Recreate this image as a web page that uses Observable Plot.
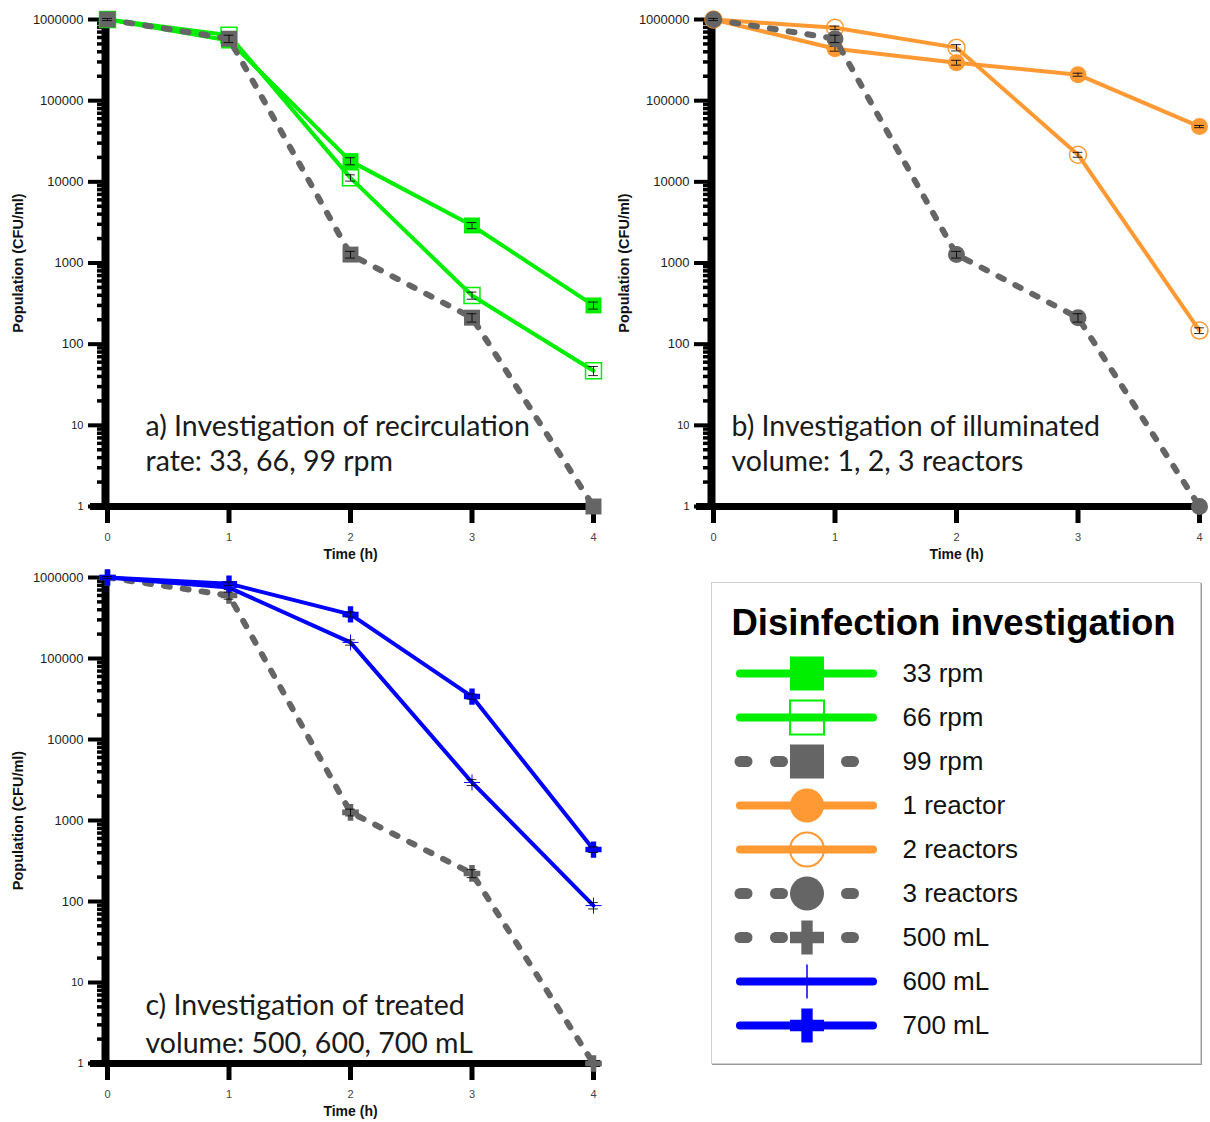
<!DOCTYPE html>
<html><head><meta charset="utf-8">
<script src="https://cdn.jsdelivr.net/npm/d3@7"></script>
<script src="https://cdn.jsdelivr.net/npm/@observablehq/plot@0.6"></script>
<style>
body{margin:0;background:#fff;overflow:hidden}
#root{position:relative;width:1210px;height:1122px;background:#fff}
.panel{position:absolute}
#legend{position:absolute;left:711px;top:582px;width:490px;height:482px;border:1px solid #cfcfcf;box-shadow:1px 1px 0 #9a9a9a;box-sizing:border-box;background:#fff}
#legend svg{display:block}
</style></head>
<body><div id="root"></div>
<script>
// ---------------- data ----------------
const times = [0, 1, 2, 3, 4];
const xTicks = [0, 1, 2, 3, 4];
const yTicks = [1, 10, 100, 1000, 10000, 100000, 1000000];

// a) recirculation rate
const rpm33    = [1000000, 550000, 18000, 2900, 300];
const rpm33Err = [30000, 40000, 1800, 250, 30];
const rpm66    = [1000000, 640000, 11200, 398, 47];
const rpm66Err = [30000, 40000, 1000, 40, 6];
const rpm99    = [1000000, 580000, 1270, 212, 1];
const rpm99Err = [30000, 60000, 120, 25, 0];
// b) illuminated volume
const reactor1    = [1000000, 437000, 294000, 209000, 48000];
const reactor1Err = [30000, 30000, 20000, 9000, 1500];
const reactors2    = [1000000, 790000, 450000, 21600, 147];
const reactors2Err = [30000, 40000, 40000, 1500, 12];
const reactors3    = [1000000, 580000, 1270, 212, 1];
const reactors3Err = [30000, 60000, 120, 25, 0];
// c) treated volume
const ml500    = [1000000, 600000, 1260, 222, 1];
const ml500Err = [30000, 60000, 120, 25, 0];
const ml600    = [1000000, 750000, 158000, 2950, 89];
const ml600Err = [30000, 40000, 12000, 250, 8];
const ml700    = [1000000, 840000, 350000, 33900, 438];
const ml700Err = [30000, 40000, 25000, 2500, 35];

const legendNames = ["33 rpm", "66 rpm", "99 rpm", "1 reactor", "2 reactors", "3 reactors", "500 mL", "600 mL", "700 mL"];
const legendTitle = "Disinfection investigation";
const panelTexts = {
  a: ["a) Investigation of recirculation", "rate: 33, 66, 99 rpm"],
  b: ["b) Investigation of illuminated", "volume: 1, 2, 3 reactors"],
  c: ["c) Investigation of treated", "volume: 500, 600, 700 mL"]
};
const yLabel = "Population (CFU/ml)";
const xLabel = "Time (h)";

// ---------------- styles ----------------
const GREEN = "#00ee00", ORANGE = "#ff9933", GRAY = "#656565", BLUE = "#0000ff";
function plusR(extent) {
  const s = d3.symbol(d3.symbolPlus, 10000)();
  const e = Math.abs(+(/M\s*(-?[\d.]+)/.exec(s)[1]));
  const k = e / Math.sqrt(10000 - 2);
  const size = (extent / k) ** 2 + 2;
  return Math.sqrt(size / Math.PI);
}
const styleOf = {
  "33 rpm":     {color: GREEN,  dashed: false, symbol: "square", filled: true,  r: 9,   lr: 19.2},
  "66 rpm":     {color: GREEN,  dashed: false, symbol: "square", filled: false, r: 9,   lr: 19.2},
  "99 rpm":     {color: GRAY,   dashed: true,  symbol: "square", filled: true,  r: 9,   lr: 19.2},
  "1 reactor":  {color: ORANGE, dashed: false, symbol: "circle", filled: true,  r: 8.5, lr: 17},
  "2 reactors": {color: ORANGE, dashed: false, symbol: "circle", filled: false, r: 8.5, lr: 17},
  "3 reactors": {color: GRAY,   dashed: true,  symbol: "circle", filled: true,  r: 8.5, lr: 17},
  "500 mL":     {color: GRAY,   dashed: true,  symbol: "cross",  filled: true,  r: 7,   lr: 14.3},
  "600 mL":     {color: BLUE,   dashed: false, symbol: "plus",   filled: false, thin: true, r: plusR(8), lr: plusR(17)},
  "700 mL":     {color: BLUE,   dashed: false, symbol: "cross",  filled: true,  r: 6.8, lr: 14.3}
};

function rows(name, values, errs) {
  return times.map((t, i) => ({name, t, v: values[i], e: errs[i]}));
}
const panelSeries = {
  a: [rows("33 rpm", rpm33, rpm33Err), rows("66 rpm", rpm66, rpm66Err), rows("99 rpm", rpm99, rpm99Err)],
  b: [rows("1 reactor", reactor1, reactor1Err), rows("2 reactors", reactors2, reactors2Err), rows("3 reactors", reactors3, reactors3Err)],
  c: [rows("500 mL", ml500, ml500Err), rows("600 mL", ml600, ml600Err), rows("700 mL", ml700, ml700Err)]
};

const minorTicks = [];
for (let k = 0; k < 6; k++) for (let m = 2; m <= 9; m++) minorTicks.push(m * 10 ** k);

const FONT = "Liberation Sans, Arial, Helvetica, sans-serif";
const ANNO_FONT = "Lato, 'Open Sans', sans-serif";

function seriesMarks(data) {
  const st = styleOf[data[0].name];
  const m = [];
  m.push(Plot.line(data, {
    x: "t", y: "v", stroke: st.color,
    strokeWidth: st.dashed ? 6 : 4,
    strokeDasharray: st.dashed ? "6,13" : null,
    strokeLinecap: "round", strokeLinejoin: "round"
  }));
  m.push(Plot.dot(data, {
    x: "t", y: "v", symbol: st.symbol, r: st.r,
    fill: st.filled ? st.color : "none",
    stroke: st.filled ? "none" : st.color,
    strokeWidth: st.thin ? 1 : 1.5
  }));
  const eb = data.filter(d => d.e > 0);
  m.push(Plot.ruleX(eb, {x: "t", y1: d => d.v - d.e, y2: d => d.v + d.e, stroke: "#000", strokeWidth: 1, strokeOpacity: 0.85}));
  m.push(Plot.ruleY(eb, {y: d => d.v - d.e, x1: d => d.t - 0.04, x2: d => d.t + 0.04, stroke: "#000", strokeWidth: 1, strokeOpacity: 0.85}));
  m.push(Plot.ruleY(eb, {y: d => d.v + d.e, x1: d => d.t - 0.04, x2: d => d.t + 0.04, stroke: "#000", strokeWidth: 1, strokeOpacity: 0.85}));
  return m;
}

function makePanel({key, left, top, width, height, marginRight, marginBottom, annoDx, annoDy, order}) {
  const marks = [];
  marks.push(Plot.ruleX([0], {y1: 1, y2: 1000000, strokeWidth: 8, dx: -2}));
  marks.push(Plot.ruleY([1], {x1: -0.14, x2: 4.06, strokeWidth: 7}));
  marks.push(Plot.axisY(minorTicks, {anchor: "left", tickSize: 10, strokeWidth: 3.5, fill: "none", label: null}));
  marks.push(Plot.axisY(yTicks.filter(d => d >= 100), {anchor: "left", tickSize: 19, strokeWidth: 4, tickPadding: 5, fontSize: 13, fill: "#222", tickFormat: d => String(d), label: null}));
  marks.push(Plot.axisY(yTicks.filter(d => d < 100), {anchor: "left", tickSize: 19, strokeWidth: 4, tickPadding: 5, fontSize: 11, fill: "#222", tickFormat: d => String(d), label: null}));
  marks.push(Plot.axisX(xTicks, {anchor: "bottom", tickSize: 17, strokeWidth: 5, tickPadding: 10, fontSize: 11, fill: "#444", tickFormat: d => String(d), label: null}));
  marks.push(Plot.text([yLabel], {frameAnchor: "left", rotate: -90, dx: -89, textAnchor: "middle", lineAnchor: "middle", fontWeight: "bold", fontSize: 14.5, fill: "#111"}));
  marks.push(Plot.text([xLabel], {frameAnchor: "bottom", dy: 48, textAnchor: "middle", lineAnchor: "middle", fontWeight: "bold", fontSize: 14, fill: "#111"}));
  const texts = panelTexts[key];
  texts.forEach((t, i) => {
    marks.push(Plot.text([t], {frameAnchor: "top-left", dx: annoDx, dy: annoDy[i], lineAnchor: "bottom", textAnchor: "start", fontSize: 28.5, fontFamily: ANNO_FONT, fill: "#1a1a1a"}));
  });
  for (const idx of order) marks.push(...seriesMarks(panelSeries[key][idx]));
  const svg = Plot.plot({
    width, height, marginLeft: 107, marginRight, marginTop: 19, marginBottom,
    x: {domain: [0, 4]},
    y: {type: "log", domain: [1, 1000000]},
    style: {fontFamily: FONT, fontSize: "12px", background: "transparent", overflow: "visible"},
    marks
  });
  svg.classList.add("panel");
  svg.style.left = left + "px";
  svg.style.top = top + "px";
  document.getElementById("root").appendChild(svg);
}

makePanel({key: "a", left: 0, top: 0, width: 610, height: 570, marginRight: 17, marginBottom: 64, annoDx: 38, annoDy: [416, 451], order: [0, 1, 2]});
makePanel({key: "b", left: 606, top: 0, width: 604, height: 570, marginRight: 11, marginBottom: 64, annoDx: 18, annoDy: [416, 451], order: [0, 1, 2]});
makePanel({key: "c", left: 0, top: 558, width: 610, height: 564, marginRight: 17, marginBottom: 59, annoDx: 38, annoDy: [437, 475], order: [0, 1, 2]});

// ---------------- legend ----------------
const legendRows = legendNames.map(name => ({name}));
const lmarks = [];
for (const row of legendRows) {
  const st = styleOf[row.name];
  lmarks.push(Plot.ruleY([row], {
    y: "name", x1: 0, x2: 1, stroke: st.color,
    strokeWidth: st.dashed ? 11 : 8,
    strokeDasharray: st.dashed ? "7,28.5" : null,
    strokeLinecap: "round"
  }));
  lmarks.push(Plot.dot([row], {
    y: "name", x: 0.5, symbol: st.symbol, r: st.lr,
    fill: st.filled ? st.color : "none",
    stroke: st.filled ? "none" : st.color,
    strokeWidth: st.thin ? 1.5 : 2
  }));
}
lmarks.push(Plot.text(legendRows, {y: "name", x: 1, dx: 29, text: "name", textAnchor: "start", lineAnchor: "middle", fontSize: 26, fill: "#111"}));
lmarks.push(Plot.text([legendTitle], {frameAnchor: "top-left", dx: 19, dy: 40, textAnchor: "start", lineAnchor: "middle", fontWeight: "bold", fontSize: 36.5, fill: "#000"}));
const legendSvg = Plot.plot({
  width: 488, height: 480, margin: 0,
  x: {domain: [0, 1], range: [28, 161], axis: null},
  y: {type: "point", domain: legendNames, range: [88, 443], padding: 0, axis: null},
  style: {fontFamily: FONT, background: "transparent", overflow: "visible"},
  marks: lmarks
});
const legendDiv = document.createElement("div");
legendDiv.id = "legend";
legendDiv.appendChild(legendSvg);
document.getElementById("root").appendChild(legendDiv);
</script>
</body></html>
